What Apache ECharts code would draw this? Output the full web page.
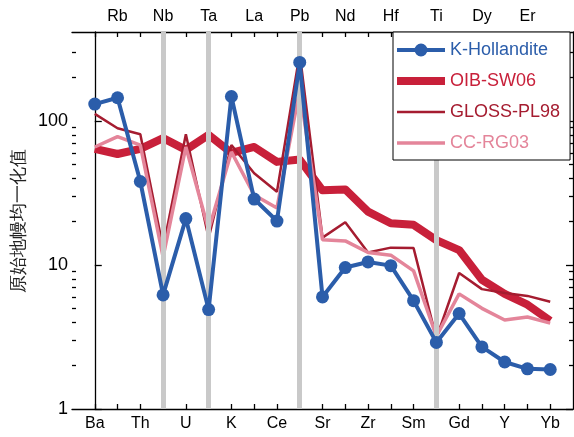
<!DOCTYPE html>
<html>
<head>
<meta charset="utf-8">
<script src="https://cdn.jsdelivr.net/npm/echarts@6/dist/echarts.min.js"></script>
<style>
html,body{margin:0;padding:0;background:#fff;}
#chart{width:574px;height:437px;}
</style>
</head>
<body>
<div id="chart"></div>
<script>
// ---- data ----
const elements = ['Ba','Rb','Th','Nb','U','Ta','K','La','Ce','Pb','Sr','Nd','Zr','Hf','Sm','Ti','Gd','Dy','Y','Er','Yb'];
const highlightElements = ['Nb','Ta','Pb','Ti'];
const kHollandite = [131, 145, 38, 6.2, 21, 4.9, 148, 28.7, 20.2, 255, 6.0, 9.6, 10.5, 9.9, 5.65, 2.9, 4.6, 2.7, 2.12, 1.9, 1.88];
const oibSW06    = [64, 59, 64, 76, 63, 80, 60, 66, 52, 54, 33, 33.5, 23.5, 19.5, 19, 14.9, 12.7, 7.9, 6.3, 5.3, 4.1];
const glossPL98  = [112, 89, 81, 13.1, 81, 15.4, 68, 43.4, 32.3, 295, 15.5, 19.8, 12.2, 13.2, 13.1, 3.1, 8.8, 6.8, 6.4, 6.1, 5.55];
const ccRG03     = [66, 78, 68, 11.4, 66, 17.5, 61, 30.6, 24.9, 164, 15.0, 14.7, 12.2, 11.7, 9.1, 3.2, 6.3, 5.0, 4.15, 4.35, 3.95];
const yMajorLabels = [1, 10, 100];
const yMinorValues = [2,3,4,5,6,7,8,9,20,30,40,50,60,70,80,90,200,300];
const yName = '原始地幔均一化值';
const YMIN = 1, YMAX = 415;

// ---- build ----
const FONT = '"Liberation Sans", Arial, Helvetica, sans-serif';
const C = {k:'#2b5daa', oib:'#c8203a', gloss:'#a51c30', cc:'#e4859a'};
const W = {k:4, oib:8, gloss:2.5, cc:3.5};
const idx = elements.map((e,i)=>i);
const bottomIdx = idx.filter(i=>i%2===0);
const topIdx = idx.filter(i=>i%2===1);
const pairs = arr => arr.map((v,i)=>[i, v]);
const lmax = Math.log10(YMAX);
const majorLog = yMajorLabels.map(v=>Math.log10(v));
const minorLog = yMinorValues.map(v=>Math.log10(v));
const axisLineStyle = {color:'#000', width:1.3};

// legend icons: a horizontal bar of the series' line width (plus a dot for the marker series)
const ICON_H = 14;
function barIcon(w){
  const y0 = (ICON_H - w)/2, y1 = y0 + w;
  return `path://M0,0H0.01V0.01H0Z M0,${y0}H48V${y1}H0Z M47.99,${ICON_H-0.01}H48V${ICON_H}H47.99Z`;
}
function dotIcon(w, r){
  const y0 = (ICON_H - w)/2, y1 = y0 + w, c = ICON_H/2;
  return `path://M0,0H0.01V0.01H0Z M0,${y0}H48V${y1}H0Z M${24+r},${c}A${r},${r} 0 1,1 ${24-r},${c}A${r},${r} 0 1,1 ${24+r},${c}Z M47.99,${ICON_H-0.01}H48V${ICON_H}H47.99Z`;
}

function xAxis(pos, labelIdx){
  return {
    type:'value', min:-1, max:elements.length, position:pos,
    axisLine:{show:true, onZero:false, lineStyle:axisLineStyle},
    axisTick:{show:true, inside:true, length:5, customValues:idx, lineStyle:axisLineStyle},
    axisLabel:{show:true, customValues:labelIdx, formatter:v=>elements[Math.round(v)]||'',
      fontSize:16, color:'#000', fontFamily:FONT, margin:7},
    splitLine:{show:false}
  };
}
function tickAxis(pos, vals, len, labels){
  return {
    type:'value', min:0, max:lmax, position:pos,
    axisLine:{show:false},
    axisTick:{show:true, inside:true, length:len, customValues:vals, lineStyle:axisLineStyle},
    axisLabel:labels ? {show:true, customValues:vals, formatter:v=>String(Math.round(Math.pow(10,v))),
      fontSize:18, color:'#000', fontFamily:FONT, margin:4} : {show:false},
    splitLine:{show:false}
  };
}

const option = {
  animation:false,
  backgroundColor:'#fff',
  textStyle:{fontFamily:FONT},
  grid:{left:72, right:1, top:32, bottom:28, containLabel:false},
  xAxis:[xAxis('bottom', bottomIdx), xAxis('top', topIdx)],
  yAxis:[
    {type:'log', logBase:10, min:YMIN, max:YMAX, position:'left',
     name:yName, nameLocation:'middle', nameGap:44, nameRotate:90,
     nameTextStyle:{fontSize:18, color:'#222', fontFamily:FONT},
     axisLine:{show:true, lineStyle:axisLineStyle}, axisTick:{show:false},
     axisLabel:{show:false}, splitLine:{show:false}},
    tickAxis('left', majorLog, 7, true),
    tickAxis('left', minorLog, 4, false),
    Object.assign(tickAxis('right', majorLog, 7, false), {axisLine:{show:true, lineStyle:axisLineStyle}}),
    tickAxis('right', minorLog, 4, false)
  ],
  legend:{
    orient:'vertical', left:393, top:32,
    itemWidth:48, itemHeight:ICON_H, itemGap:13, itemTextGap:10,
    borderColor:'#000', borderWidth:1, borderRadius:0, backgroundColor:'#fff',
    padding:[9, 10, 8, 4],
    textStyle:{fontSize:18, fontFamily:FONT},
    data:[
      {name:'K-Hollandite', icon:dotIcon(W.k, 6.5), itemStyle:{color:C.k}, textStyle:{color:C.k}},
      {name:'OIB-SW06', icon:barIcon(W.oib), itemStyle:{color:C.oib}, textStyle:{color:C.oib}},
      {name:'GLOSS-PL98', icon:barIcon(W.gloss), itemStyle:{color:C.gloss}, textStyle:{color:C.gloss}},
      {name:'CC-RG03', icon:barIcon(W.cc), itemStyle:{color:C.cc}, textStyle:{color:C.cc}}
    ],
    z:20
  },
  series:[
    {type:'line', xAxisIndex:0, yAxisIndex:0, data:[], silent:true, z:1,
     markLine:{silent:true, symbol:['none','none'], label:{show:false},
       lineStyle:{color:'#c9c9c9', width:5, type:'solid'},
       emphasis:{disabled:true},
       data:highlightElements.map(e=>({xAxis:elements.indexOf(e)}))}},
    {name:'OIB-SW06', type:'line', xAxisIndex:0, yAxisIndex:0, data:pairs(oibSW06), z:2,
     showSymbol:false, symbol:'none', color:C.oib,
     lineStyle:{color:C.oib, width:W.oib, join:'round'}, emphasis:{disabled:true}},
    {name:'GLOSS-PL98', type:'line', xAxisIndex:0, yAxisIndex:0, data:pairs(glossPL98), z:3,
     showSymbol:false, symbol:'none', color:C.gloss,
     lineStyle:{color:C.gloss, width:W.gloss}, emphasis:{disabled:true}},
    {name:'CC-RG03', type:'line', xAxisIndex:0, yAxisIndex:0, data:pairs(ccRG03), z:4,
     showSymbol:false, symbol:'none', color:C.cc,
     lineStyle:{color:C.cc, width:W.cc}, emphasis:{disabled:true}},
    {name:'K-Hollandite', type:'line', xAxisIndex:0, yAxisIndex:0, data:pairs(kHollandite), z:5,
     symbol:'circle', symbolSize:13, showSymbol:true, color:C.k,
     itemStyle:{color:C.k}, lineStyle:{color:C.k, width:W.k}, emphasis:{disabled:true}}
  ]
};
const chart = echarts.init(document.getElementById('chart'), null, {renderer:'canvas'});
chart.setOption(option);
</script>
</body>
</html>
